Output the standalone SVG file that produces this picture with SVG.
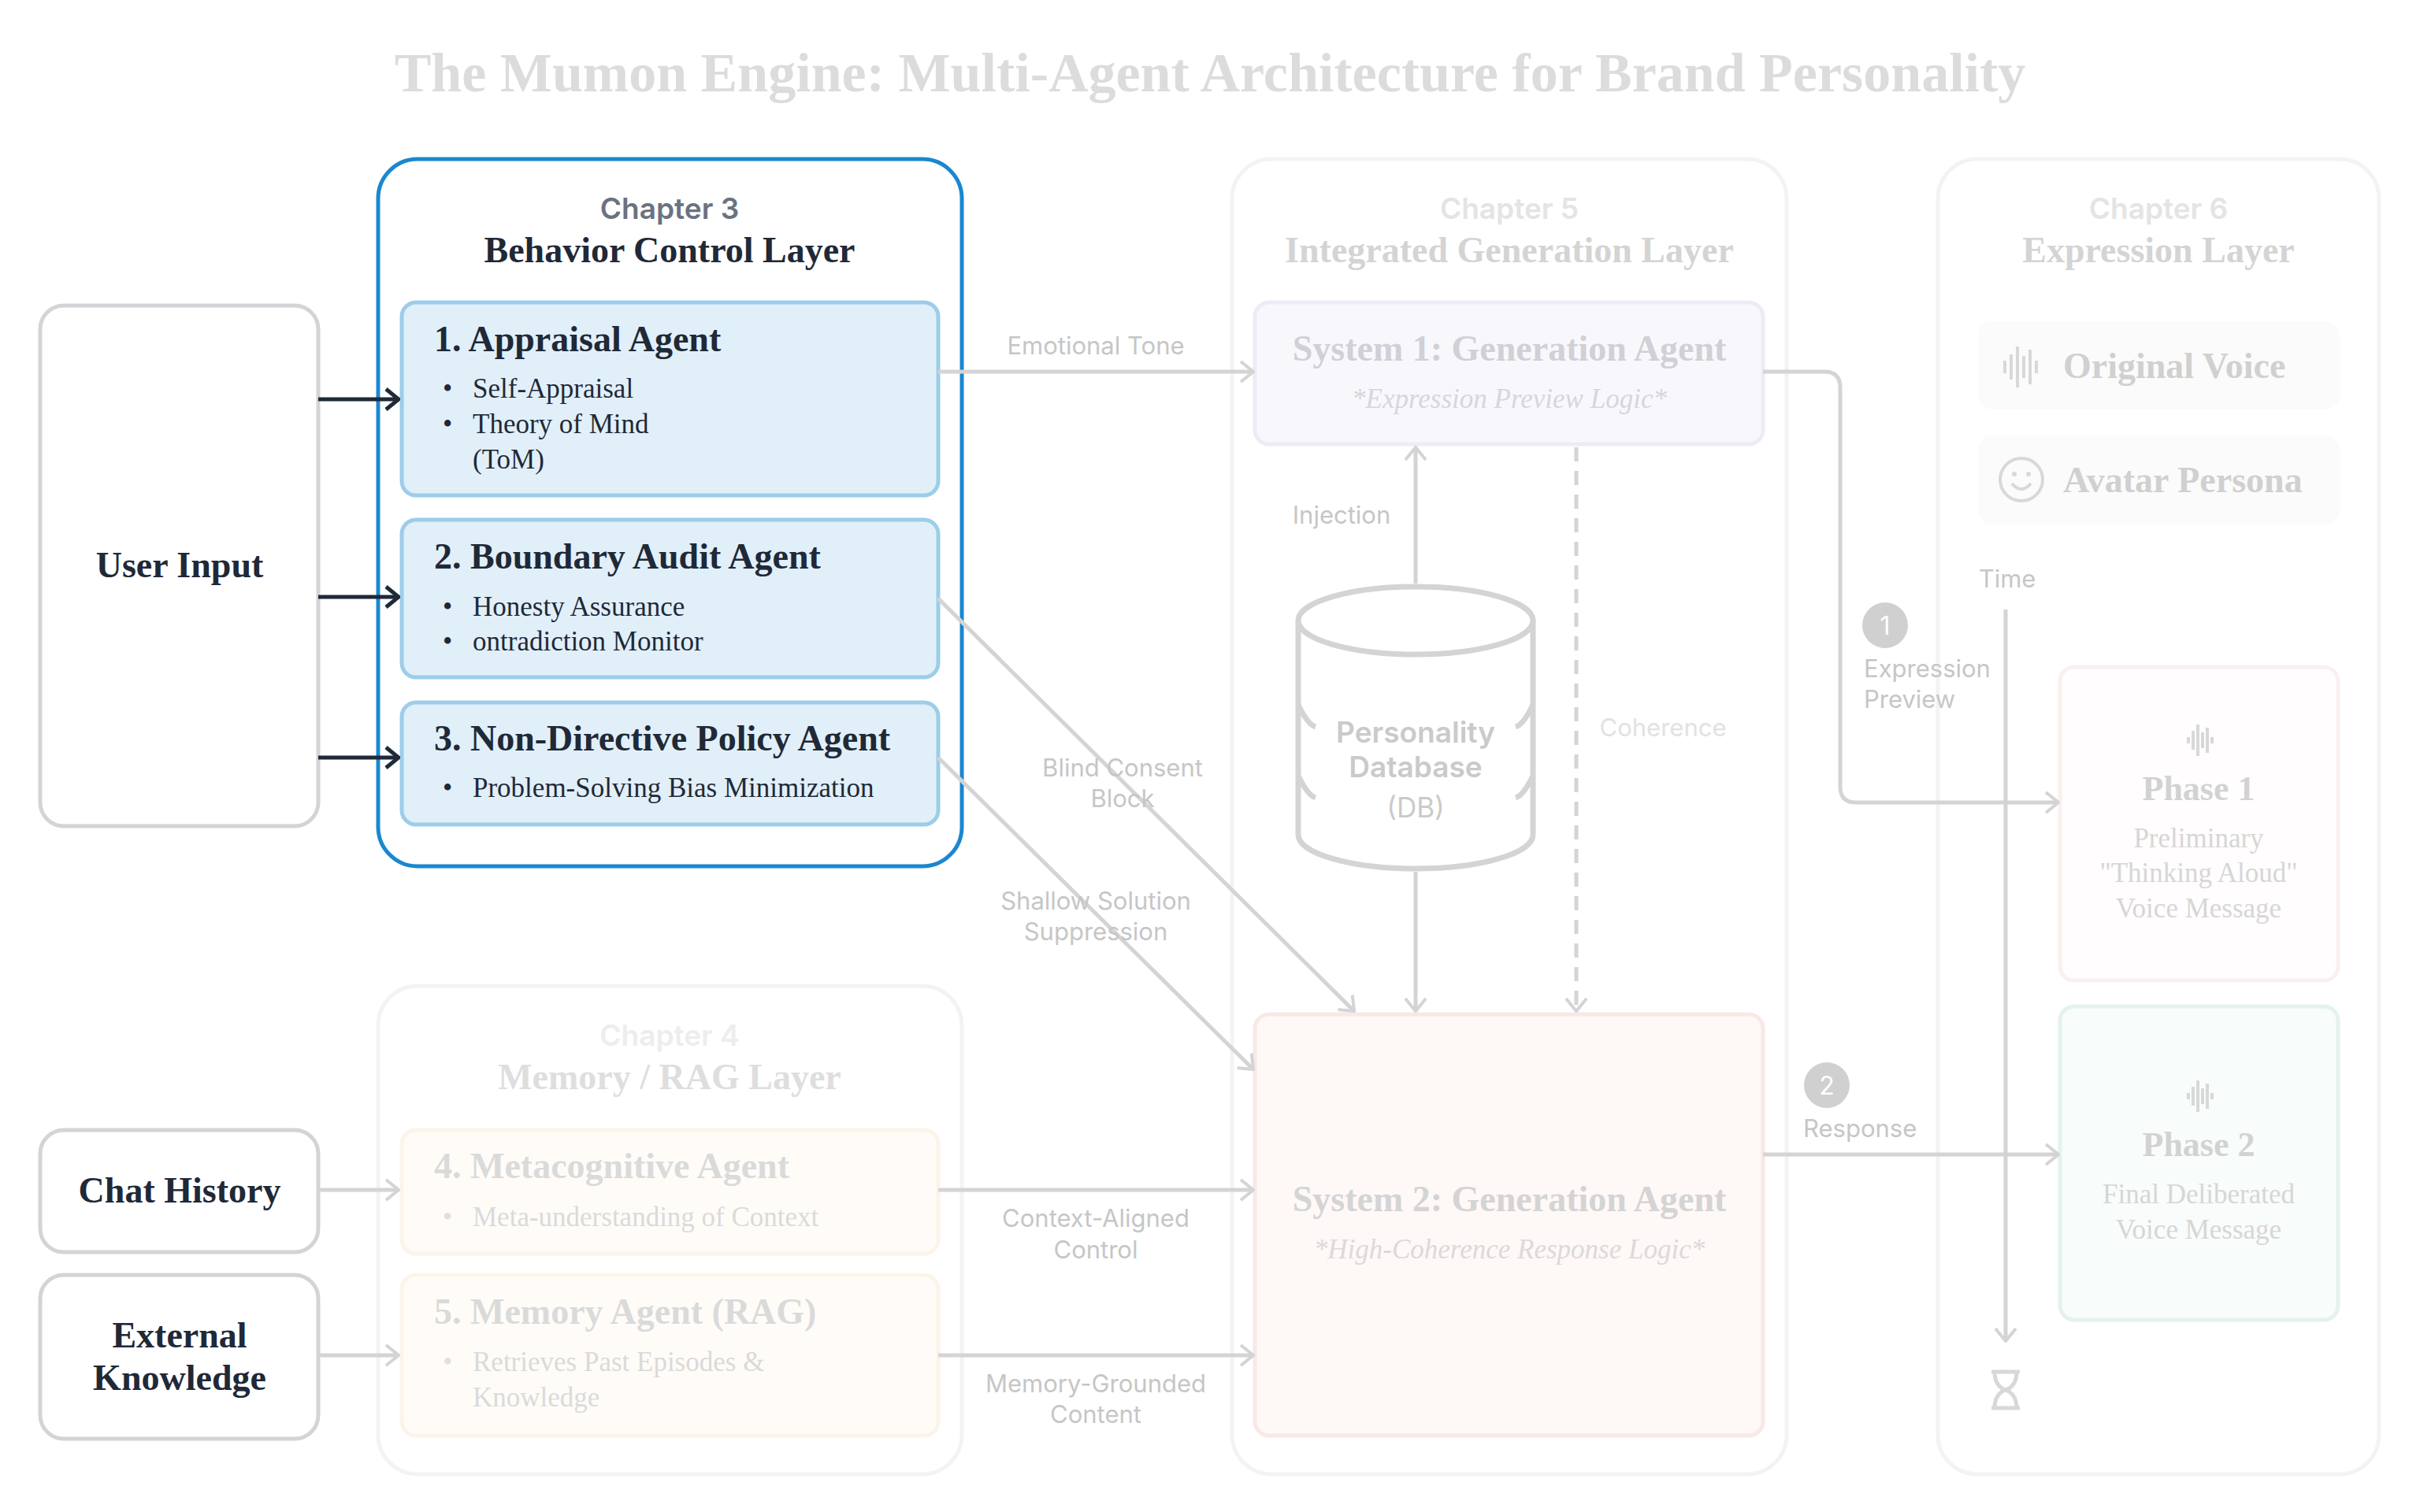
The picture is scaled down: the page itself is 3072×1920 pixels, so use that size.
<svg xmlns="http://www.w3.org/2000/svg" width="3072" height="1920" viewBox="0 0 3072 1920">
<defs>
<style>
.serif{font-family:"Liberation Serif","DejaVu Serif",serif}
.sans{font-family:Inter,"Liberation Sans",sans-serif}
.lbl{font-family:Inter,"Liberation Sans",sans-serif;font-size:31px;fill:#c6c6c6;text-anchor:middle}
.fline{stroke:#d4d4d4;stroke-width:5;fill:none}
.dline{stroke:#1f2937;stroke-width:5;fill:none}
.ch{font-family:Inter,"Liberation Sans",sans-serif;font-size:37px;font-weight:600;text-anchor:middle}
.layer{font-family:"Liberation Serif",serif;font-size:46px;font-weight:600;text-anchor:middle}
.agentT{font-family:"Liberation Serif",serif;font-size:46px;font-weight:600}
.bul{font-family:"Liberation Serif",serif;font-size:35px}
</style>
<marker id="ga" viewBox="0 0 20 30" refX="18" refY="15" markerWidth="20" markerHeight="30" markerUnits="userSpaceOnUse" orient="auto"><path d="M2 2 L18 15 L2 28" fill="none" stroke="#d4d4d4" stroke-width="4"/></marker>
<marker id="da" viewBox="0 0 20 30" refX="18" refY="15" markerWidth="20" markerHeight="30" markerUnits="userSpaceOnUse" orient="auto"><path d="M2 2 L18 15 L2 28" fill="none" stroke="#1f2937" stroke-width="5"/></marker>
</defs>
<rect width="3072" height="1920" fill="#ffffff"/>
<text x="1536" y="116" class="serif" font-size="70" font-weight="600" fill="#dcdcdc" text-anchor="middle">The Mumon Engine: Multi-Agent Architecture for Brand Personality</text>

<g id="ch5">
<rect x="1564" y="202" width="704" height="1670" rx="50" fill="#fff" stroke="#f3f3f3" stroke-width="5"/>
<text x="1916" y="278" class="ch" fill="#e4e4e4">Chapter 5</text>
<text x="1916" y="333" class="layer" fill="#d4d4d4">Integrated Generation Layer</text>
</g>
<g id="ch6">
<rect x="2460" y="202" width="560" height="1670" rx="50" fill="#fff" stroke="#f3f3f3" stroke-width="5"/>
<text x="2740" y="278" class="ch" fill="#e4e4e4">Chapter 6</text>
<text x="2740" y="333" class="layer" fill="#d4d4d4">Expression Layer</text>
</g>
<g id="ch4">
<rect x="480" y="1252" width="741" height="620" rx="50" fill="#fff" stroke="#f3f3f3" stroke-width="5"/>
<text x="850" y="1328" class="ch" fill="#ededed">Chapter 4</text>
<text x="850" y="1383" class="layer" fill="#dedede">Memory / RAG Layer</text>
</g>

<g id="user-input">
<rect x="51" y="388" width="353" height="661" rx="30" fill="#fff" stroke="#d4d4d8" stroke-width="5"/>
<text x="228" y="733" class="serif" font-size="46" font-weight="600" fill="#1f2937" text-anchor="middle">User Input</text>
</g>
<g id="chat-history">
<rect x="51" y="1435" width="353" height="155" rx="30" fill="#fff" stroke="#d4d4d8" stroke-width="5"/>
<text x="228" y="1527" class="serif" font-size="46" font-weight="600" fill="#1f2937" text-anchor="middle">Chat History</text>
</g>
<g id="external-knowledge">
<rect x="51" y="1619" width="353" height="208" rx="30" fill="#fff" stroke="#d4d4d8" stroke-width="5"/>
<text x="228" y="1711" class="serif" font-size="46" font-weight="600" fill="#1f2937" text-anchor="middle">External</text>
<text x="228" y="1765" class="serif" font-size="46" font-weight="600" fill="#1f2937" text-anchor="middle">Knowledge</text>
</g>

<g id="ch3">
<rect x="480" y="202" width="741" height="898" rx="50" fill="#fff" stroke="#1a87cf" stroke-width="5"/>
<text x="850" y="278" class="ch" fill="#6b7280">Chapter 3</text>
<text x="850" y="333" class="layer" fill="#1f2937">Behavior Control Layer</text>
</g>
<g id="agent1">
<rect x="510" y="384" width="681" height="245" rx="18" fill="#e1eff9" stroke="#9ccde9" stroke-width="5"/>
<text x="551" y="446" class="agentT" fill="#1f2937">1.  Appraisal Agent</text>
<text x="562" y="505" class="bul" fill="#1f2937">•</text><text x="600" y="505" class="bul" fill="#1f2937">Self-Appraisal</text>
<text x="562" y="550" class="bul" fill="#1f2937">•</text><text x="600" y="550" class="bul" fill="#1f2937">Theory of Mind</text>
<text x="600" y="595" class="bul" fill="#1f2937">(ToM)</text>
</g>
<g id="agent2">
<rect x="510" y="660" width="681" height="200" rx="18" fill="#e1eff9" stroke="#9ccde9" stroke-width="5"/>
<text x="551" y="722" class="agentT" fill="#1f2937">2.  Boundary Audit Agent</text>
<text x="562" y="782" class="bul" fill="#1f2937">•</text><text x="600" y="782" class="bul" fill="#1f2937">Honesty Assurance</text>
<text x="562" y="826" class="bul" fill="#1f2937">•</text><text x="600" y="826" class="bul" fill="#1f2937">ontradiction Monitor</text>
</g>
<g id="agent3">
<rect x="510" y="892" width="681" height="155" rx="18" fill="#e1eff9" stroke="#9ccde9" stroke-width="5"/>
<text x="551" y="953" class="agentT" fill="#1f2937">3.  Non-Directive Policy Agent</text>
<text x="562" y="1012" class="bul" fill="#1f2937">•</text><text x="600" y="1012" class="bul" fill="#1f2937">Problem-Solving Bias Minimization</text>
</g>
<g id="agent4">
<rect x="510" y="1435" width="681" height="157" rx="18" fill="#fffcf8" stroke="#fbf4ea" stroke-width="5"/>
<text x="551" y="1496" class="agentT" fill="#dadada">4.  Metacognitive Agent</text>
<text x="562" y="1557" class="bul" fill="#e0e0e0">•</text><text x="600" y="1557" class="bul" fill="#dadada">Meta-understanding of Context</text>
</g>
<g id="agent5">
<rect x="510" y="1619" width="681" height="204" rx="18" fill="#fffcf8" stroke="#fbf4ea" stroke-width="5"/>
<text x="551" y="1681" class="agentT" fill="#dadada">5.  Memory Agent (RAG)</text>
<text x="562" y="1741" class="bul" fill="#e0e0e0">•</text><text x="600" y="1741" class="bul" fill="#dadada">Retrieves Past Episodes &amp;</text>
<text x="600" y="1786" class="bul" fill="#dadada">Knowledge</text>
</g>
<g id="system1">
<rect x="1593" y="384" width="645" height="180" rx="18" fill="#f8f8fc" stroke="#ececf6" stroke-width="5"/>
<text x="1916" y="458" class="serif" font-size="46" font-weight="600" fill="#d0d0d6" text-anchor="middle">System 1: Generation Agent</text>
<text x="1916" y="518" class="serif" font-size="35" font-style="italic" fill="#d6d6dc" text-anchor="middle">*Expression Preview Logic*</text>
</g>
<g id="database">
<path d="M1648 788 V1060 A149 43 0 0 0 1946 1060 V788" fill="#fff" stroke="#d4d4d4" stroke-width="7"/>
<ellipse cx="1797" cy="788" rx="149" ry="43" fill="#fff" stroke="#d4d4d4" stroke-width="7"/>
<path d="M1648 895 Q1660 920 1670 923 M1946 895 Q1934 920 1924 923 M1648 985 Q1660 1010 1670 1013 M1946 985 Q1934 1010 1924 1013" fill="none" stroke="#d4d4d4" stroke-width="7"/>
<text x="1797" y="943" class="sans" font-size="37" font-weight="600" fill="#cacaca" text-anchor="middle">Personality</text>
<text x="1797" y="987" class="sans" font-size="37" font-weight="600" fill="#cacaca" text-anchor="middle">Database</text>
<text x="1797" y="1038" class="sans" font-size="35" fill="#cacaca" text-anchor="middle">(DB)</text>
</g>
<g id="system2">
<rect x="1593" y="1288" width="645" height="535" rx="18" fill="#fef8f7" stroke="#f8e8e6" stroke-width="5"/>
<text x="1916" y="1538" class="serif" font-size="46" font-weight="600" fill="#d4d4d4" text-anchor="middle">System 2: Generation Agent</text>
<text x="1916" y="1598" class="serif" font-size="35" font-style="italic" fill="#dadada" text-anchor="middle">*High-Coherence Response Logic*</text>
</g>
<g id="original-voice">
<rect x="2511" y="408" width="459" height="112" rx="18" fill="#fbfbfb"/>
<path d="M2545 458 V474 M2553 450 V482 M2561 440 V492 M2569 452 V480 M2577 444 V488 M2585 458 V474" stroke="#d8d8d8" stroke-width="4"/>
<text x="2619" y="480" class="serif" font-size="46" font-weight="600" fill="#d0d0d0">Original Voice</text>
</g>
<g id="avatar-persona">
<rect x="2511" y="553" width="459" height="113" rx="18" fill="#fbfbfb"/>
<circle cx="2566" cy="609" r="27" fill="none" stroke="#d8d8d8" stroke-width="4"/>
<circle cx="2557" cy="602" r="3" fill="#d8d8d8"/><circle cx="2575" cy="602" r="3" fill="#d8d8d8"/>
<path d="M2554 614 Q2566 628 2578 614" fill="none" stroke="#d8d8d8" stroke-width="4"/>
<text x="2619" y="625" class="serif" font-size="46" font-weight="600" fill="#d0d0d0">Avatar Persona</text>
</g>
<g id="phase1">
<rect x="2615" y="847" width="353" height="398" rx="18" fill="#fffdfd" stroke="#fcefef" stroke-width="5"/>
<path d="M2778 936 V944 M2784 928 V952 M2790 920 V960 M2796 930 V950 M2802 924 V956 M2808 936 V944" stroke="#d8d8d8" stroke-width="4"/>
<text x="2791" y="1016" class="serif" font-size="44" font-weight="600" fill="#d2d2d2" text-anchor="middle">Phase 1</text>
<text x="2791" y="1076" class="serif" font-size="35" fill="#d6d6d6" text-anchor="middle">Preliminary</text>
<text x="2791" y="1120" class="serif" font-size="35" fill="#d6d6d6" text-anchor="middle">"Thinking Aloud"</text>
<text x="2791" y="1165" class="serif" font-size="35" fill="#d6d6d6" text-anchor="middle">Voice Message</text>
</g>
<g id="phase2">
<rect x="2615" y="1278" width="353" height="398" rx="18" fill="#f8fcfa" stroke="#e4f2ec" stroke-width="5"/>
<path d="M2778 1388 V1396 M2784 1380 V1404 M2790 1372 V1412 M2796 1382 V1402 M2802 1376 V1408 M2808 1388 V1396" stroke="#d8d8d8" stroke-width="4"/>
<text x="2791" y="1468" class="serif" font-size="44" font-weight="600" fill="#d2d2d2" text-anchor="middle">Phase 2</text>
<text x="2791" y="1528" class="serif" font-size="35" fill="#d6d6d6" text-anchor="middle">Final Deliberated</text>
<text x="2791" y="1573" class="serif" font-size="35" fill="#d6d6d6" text-anchor="middle">Voice Message</text>
</g>
<g id="hourglass">
<path d="M2528 1742 H2564 M2528 1788 H2564 M2532 1742 Q2532 1760 2546 1765 Q2532 1770 2532 1788 M2560 1742 Q2560 1760 2546 1765 Q2560 1770 2560 1788" fill="none" stroke="#d8d8d8" stroke-width="5"/>
</g>

<g id="connectors">
<path d="M404 507 H506" class="dline" marker-end="url(#da)"/>
<path d="M404 758 H506" class="dline" marker-end="url(#da)"/>
<path d="M404 962 H506" class="dline" marker-end="url(#da)"/>
<path d="M404 1511 H506" class="fline" marker-end="url(#ga)"/>
<path d="M404 1721 H506" class="fline" marker-end="url(#ga)"/>
<path d="M1191 472 H1591" class="fline" marker-end="url(#ga)"/>
<path d="M1797 741 V568" class="fline" marker-end="url(#ga)"/>
<path d="M1797 1107 V1284" class="fline" marker-end="url(#ga)"/>
<path d="M2001 568 V1284" class="fline" stroke-dasharray="18 12" marker-end="url(#ga)"/>
<path d="M1191 760 L1719 1284" class="fline" marker-end="url(#ga)"/>
<path d="M1191 962 L1591 1358" class="fline" marker-end="url(#ga)"/>
<path d="M1191 1511 H1591" class="fline" marker-end="url(#ga)"/>
<path d="M1191 1721 H1591" class="fline" marker-end="url(#ga)"/>
<path d="M2238 472 H2316 Q2336 472 2336 492 V999 Q2336 1019 2356 1019 H2613" class="fline" marker-end="url(#ga)"/>
<path d="M2238 1466 H2613" class="fline" marker-end="url(#ga)"/>
<path d="M2546 774 V1703" class="fline" marker-end="url(#ga)"/>
<text x="1391" y="450" class="lbl">Emotional Tone</text>
<text x="1703" y="665" class="lbl">Injection</text>
<text x="2111" y="935" class="lbl" style="fill:#e2e2e2">Coherence</text>
<text x="1425" y="986" class="lbl">Blind Consent</text>
<text x="1425" y="1025" class="lbl">Block</text>
<text x="1391" y="1155" class="lbl">Shallow Solution</text>
<text x="1391" y="1194" class="lbl">Suppression</text>
<text x="1391" y="1558" class="lbl">Context-Aligned</text>
<text x="1391" y="1598" class="lbl">Control</text>
<text x="1391" y="1768" class="lbl">Memory-Grounded</text>
<text x="1391" y="1807" class="lbl">Content</text>
<circle cx="2393" cy="794" r="29" fill="#d0d0d0"/>
<text x="2393" y="806" class="sans" font-size="32" fill="#fff" text-anchor="middle">1</text>
<text x="2366" y="860" class="lbl" style="text-anchor:start">Expression</text>
<text x="2366" y="899" class="lbl" style="text-anchor:start">Preview</text>
<circle cx="2319" cy="1378" r="29" fill="#d0d0d0"/>
<text x="2319" y="1390" class="sans" font-size="32" fill="#fff" text-anchor="middle">2</text>
<text x="2289" y="1444" class="lbl" style="text-anchor:start">Response</text>
<text x="2548" y="746" class="lbl">Time</text>
</g>
</svg>
